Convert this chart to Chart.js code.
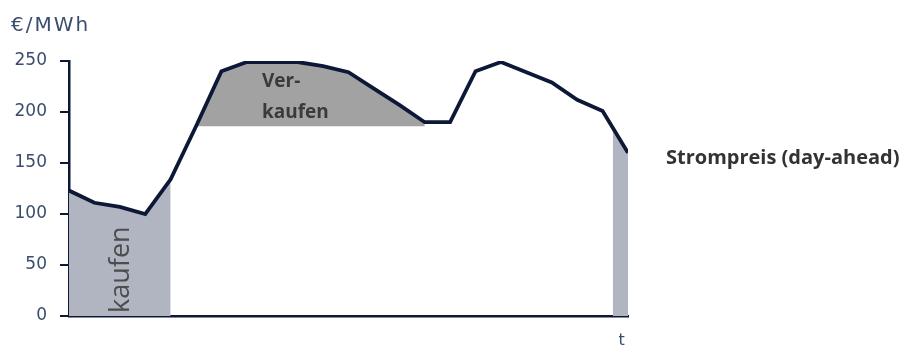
<!DOCTYPE html>
<html>
<head>
<meta charset="utf-8">
<script src="https://cdn.jsdelivr.net/npm/chart.js@4.4.1/dist/chart.umd.min.js"></script>
<style>
    html, body { margin: 0; padding: 0; background: #ffffff; }
    #wrap { position: relative; width: 902px; height: 349px; }
</style>
</head>
<body>
<div id="wrap"><canvas id="priceChart"></canvas></div>
<script>
// Day-ahead price per hour slot (EUR/MWh)
const hours = [0, 1, 2, 3, 4, 5, 6, 7, 8, 9, 10, 11, 12, 13, 14, 15, 16, 17, 18, 19, 20, 21, 22];
const price = [123, 111, 107, 100, 134, 186, 240, 249, 249, 249, 245, 239, 223, 207, 190, 190, 240, 249, 239, 229, 212, 201, 160];

// shaded ranges
const buyRange = [0, 4];          // "kaufen" slots
const sellRange = [5, 14];        // "Verkaufen" slots
const sellFloor = 186;            // lower edge of the sell block
const lateBuyHours = [21.4, 22];  // narrow buy strip at the end
const lateBuyPrice = [183, 160];

const yTicks = [0, 50, 100, 150, 200, 250];

const NAVY = '#0d1836';
const SLATE = '#3b4d6e';

function points(xs, ys) {
    return xs.map((x, i) => ({ x: x, y: ys[i] }));
}

const buyPoints = points(hours.slice(buyRange[0], buyRange[1] + 1), price.slice(buyRange[0], buyRange[1] + 1));
const sellPoints = points(hours.slice(sellRange[0], sellRange[1] + 1), price.slice(sellRange[0], sellRange[1] + 1));
const latePoints = points(lateBuyHours, lateBuyPrice);

// texts that sit on the chart
const labelPlugin = {
    id: 'labels',
    beforeDatasetsDraw(chart) {
        const ctx = chart.ctx;
        const x = chart.scales.x;
        const y = chart.scales.y;
        // lighter box behind "kaufen"
        ctx.save();
        ctx.fillStyle = '#babdc7';
        const bx = x.getPixelForValue(1.32);
        const bx2 = x.getPixelForValue(2.71);
        ctx.fillRect(bx, y.getPixelForValue(95), bx2 - bx, y.getPixelForValue(3) - y.getPixelForValue(95));
        ctx.restore();
    },
    afterDatasetsDraw(chart) {
        const ctx = chart.ctx;
        const x = chart.scales.x;
        const y = chart.scales.y;
        ctx.save();
        // kaufen, rotated
        ctx.translate(x.getPixelForValue(2.05), y.getPixelForValue(3));
        ctx.rotate(-Math.PI / 2);
        ctx.fillStyle = '#4d4d4d';
        ctx.font = '400 27px "Open Sans"';
        ctx.textAlign = 'left';
        ctx.textBaseline = 'middle';
        ctx.fillText('kaufen', 0, 0);
        ctx.restore();

        ctx.save();
        ctx.fillStyle = '#3a3a3a';
        ctx.font = '700 19px "Open Sans"';
        ctx.textAlign = 'left';
        ctx.textBaseline = 'middle';
        ctx.fillText('Ver-', 262, 82);
        ctx.fillText('kaufen', 262, 113);

        ctx.fillStyle = '#333333';
        ctx.font = '700 20px "Open Sans"';
        ctx.fillText('Strompreis (day-ahead)', 666, 158);

        ctx.fillStyle = SLATE;
        ctx.font = '400 20px "DejaVu Sans"';
        ctx.letterSpacing = '2px';
        ctx.fillText('\u20ac/MWh', 11, 26);
        ctx.letterSpacing = '0px';

        ctx.font = '400 16px "DejaVu Sans"';
        ctx.textAlign = 'center';
        ctx.fillText('t', x.getPixelForValue(21.75), 341);
        ctx.restore();
    }
};

const ctx = document.getElementById('priceChart').getContext('2d');
new Chart(ctx, {
    type: 'line',
    data: {
        datasets: [{
            label: 'Strompreis',
            data: points(hours, price),
            borderColor: NAVY,
            borderWidth: 3.8,
            borderJoinStyle: 'miter',
            pointRadius: 0,
            fill: false
        }, {
            label: 'Verkaufen',
            data: sellPoints,
            borderColor: 'rgba(0,0,0,0)',
            borderWidth: 0,
            pointRadius: 0,
            backgroundColor: '#a2a2a2',
            fill: { value: sellFloor }
        }, {
            label: 'kaufen',
            data: buyPoints,
            borderColor: 'rgba(0,0,0,0)',
            borderWidth: 0,
            pointRadius: 0,
            backgroundColor: '#b1b5c1',
            fill: 'origin'
        }, {
            label: 'kaufen spaet',
            data: latePoints,
            borderColor: 'rgba(0,0,0,0)',
            borderWidth: 0,
            pointRadius: 0,
            backgroundColor: '#b1b5c1',
            fill: 'origin'
        }]
    },
    options: {
        responsive: true,
        maintainAspectRatio: false,
        animation: false,
        layout: {
            padding: { left: 0, top: 61, right: 274, bottom: 33 }
        },
        plugins: {
            legend: { display: false },
            tooltip: { enabled: false }
        },
        scales: {
            x: {
                type: 'linear',
                min: hours[0],
                max: hours[hours.length - 1],
                ticks: { display: false },
                grid: { display: false, drawTicks: false },
                border: { display: true, color: NAVY, width: 2.5 },
                afterFit: function(scale) { scale.height = 0; }
            },
            y: {
                min: 0,
                max: 250,
                afterBuildTicks: function(scale) {
                    scale.ticks = yTicks.map(v => ({ value: v }));
                },
                ticks: {
                    color: SLATE,
                    font: { family: 'DejaVu Sans', size: 17 },
                    padding: 13
                },
                grid: {
                    drawOnChartArea: false,
                    drawTicks: true,
                    tickLength: 9,
                    color: NAVY,
                    lineWidth: 2
                },
                border: { display: true, color: NAVY, width: 2.5 },
                afterFit: function(scale) { scale.width = 69; }
            }
        }
    },
    plugins: [labelPlugin]
});
</script>
</body>
</html>
